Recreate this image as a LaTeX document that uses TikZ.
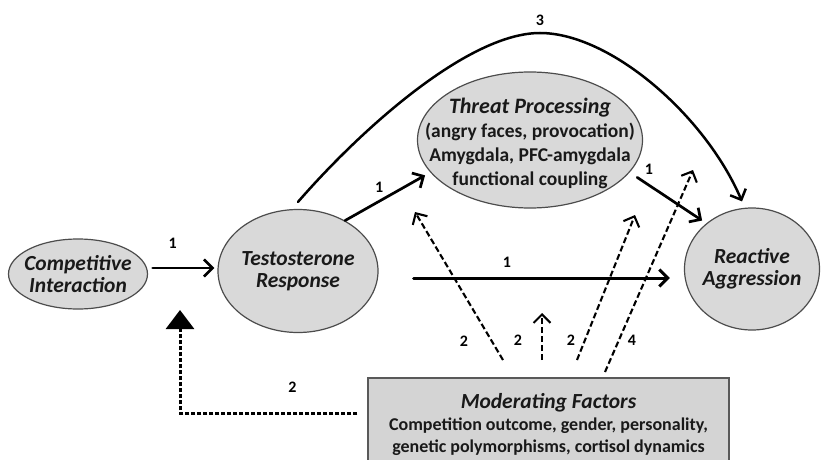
\documentclass[tikz,border=0pt]{standalone}
\usepackage{fontspec}
\setmainfont{Carlito}
\usetikzlibrary{positioning, calc, arrows.meta, shapes.geometric}

\begin{document}
\begin{tikzpicture}[x=1pt, y=-1pt, >={Straight Barb[length=8.5pt,width=17pt]},
    bubble/.style={ellipse, draw=black!70, line width=1.2pt, fill=black!15, inner sep=0pt},
    bubtext/.style={align=center, inner sep=0pt, text=black!90, font=\fontsize{21.5}{22}\selectfont\bfseries\itshape},
    arr/.style={->, line width=2.7pt, line cap=round},
    modarr/.style={->, line width=2.1pt, dash pattern=on 6pt off 3pt},
    lbl/.style={font=\fontsize{16}{16}\selectfont\bfseries, inner sep=1pt}]

    % Frame
    \useasboundingbox (0,0) rectangle (833,460);

    % Ellipses
    \node[bubble, minimum width=139pt, minimum height=70pt,
          label={[bubtext]center:Competitive\\Interaction}] (ci) at (78,274) {};
    \node[bubble, minimum width=160pt, minimum height=123pt,
          label={[bubtext]center:Testosterone\\Response}] (tr) at (298,271) {};
    \node[bubble, minimum width=225pt, minimum height=136pt,
          label={[bubtext, yshift=-3pt, font=\fontsize{19.5}{24}\selectfont\bfseries]center:{\fontsize{22}{24}\selectfont\itshape Threat Processing}\\(angry faces, provocation)\\Amygdala, PFC-amygdala\\functional coupling}] (tp) at (530,140) {};
    \node[bubble, minimum width=135pt, minimum height=122pt,
          label={[bubtext]center:Reactive\\Aggression}] (ra) at (752,269) {};

    % Moderator box
    \node[draw=black!65, line width=1.5pt, fill=black!17, minimum width=361pt, minimum height=92pt,
          align=center, text=black!90, font=\fontsize{18}{22}\selectfont\bfseries] (mf) at (548.5,424)
          {{\fontsize{21.5}{22}\selectfont\itshape Moderating Factors}\\Competition outcome, gender, personality,\\genetic polymorphisms, cortisol dynamics};

    % Main paths
    \draw[arr, shorten <=4.5pt, shorten >=3pt] ([yshift=6pt]ci.east) -- ([yshift=3pt]tr.west)
        node[lbl, midway, above=17pt, xshift=-10pt] (l1) {1};
    \draw[arr, shorten >=6pt] (tr.47) -- (tp.198)
        node[lbl, pos=0.4, above=6pt] (l2) {1};
    \draw[arr, shorten <=9pt, shorten >=5pt] (tp.342) -- (ra.135)
        node[lbl, pos=0.25, above=8pt] (l3) {1};
    \draw[arr, line width=3pt, shorten <=35pt, shorten >=14pt] ([yshift=-7pt]tr.east) -- ([yshift=-9pt]ra.west)
        node[lbl, pos=0.42, above=8pt] (l4) {1};

    % Direct path (3)
    \coordinate (peak) at (540,33);
    \draw[arr, line width=2.5pt] ([yshift=7pt]tr.north) .. controls (365,125) and (470,33) .. (peak)
        node[lbl, above=5pt] (l5) {3}
        .. controls (610,33) and (705,115) .. ([xshift=-10pt,yshift=6pt]ra.north);

    % Moderation arrows
    \coordinate (m1) at (503,360); \coordinate (t1) at (415,212);
    \coordinate (m2) at (542,360); \coordinate (t2) at (542,313);
    \coordinate (m3) at (577,360); \coordinate (t3) at (635,215);
    \coordinate (m4) at (605,372); \coordinate (t4) at (693,170);
    \foreach \a/\b/\n/\lx/\ly [count=\i] in {m1/t1/2/464/341, m2/t2/2/518/340, m3/t3/2/571/340, m4/t4/4/632/340} {
        \draw[modarr] (\a) -- (\b);
        \node[lbl] (ml\i) at (\lx,\ly) {\n};
    }

    % Feedback to testosterone response
    \coordinate (fb) at (180,310);
    \draw[line width=3pt, dash pattern=on 4.5pt off 1.5pt, -{Triangle[length=19pt,width=28pt]}, shorten <=10pt]
        ([yshift=11pt]mf.west) -| (fb)
        node[lbl, pos=0.2, above=18pt] (l6) {2};

\end{tikzpicture}
\end{document}
